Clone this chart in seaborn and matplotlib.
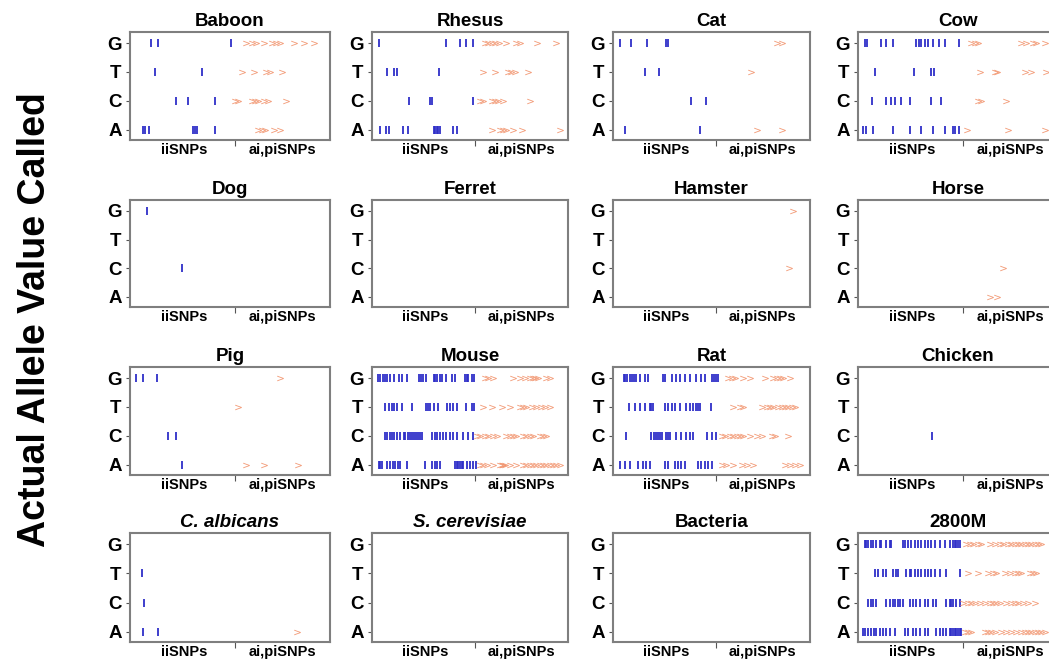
import numpy as np
import pandas as pd
import matplotlib
matplotlib.use("Agg")
import matplotlib.pyplot as plt
import seaborn as sns

# ---------------- data (positions along the SNP axis, 0-100) ----------------
ALLELES = ["A", "C", "T", "G"]          # bottom -> top
XLABELS = ["iiSNPs", "ai,piSNPs"]
SPECIES = ["Baboon", "Rhesus", "Cat", "Cow",
           "Dog", "Ferret", "Hamster", "Horse",
           "Pig", "Mouse", "Rat", "Chicken",
           "C. albicans", "S. cerevisiae", "Bacteria", "2800M"]

BABOON_II = dict(G=[10.3, 14.2, 50.5], T=[12.5, 36], C=[23, 29, 42.5],
                 A=[6.7, 7.5, 9.7, 31.7, 32.5, 33.3, 42.5])
BABOON_AI = dict(G=[58, 61, 63, 67, 71, 73, 75, 82, 87, 92], T=[56, 62, 68, 70, 76],
                 C=[52.5, 54, 61, 62.5, 64, 67, 69, 78], A=[64, 66, 67.5, 72, 75])

RHESUS_II = dict(G=[3.4, 37.8, 45, 48, 51.7], T=[7.6, 11.4, 12.7, 34.4],
                 C=[19, 29.7, 30.7, 51.7],
                 A=[3.9, 7.3, 8.5, 15.8, 18.3, 31.4, 32.2, 33, 33.9, 34.7, 41.5, 43.2])
RHESUS_AI = dict(G=[57.6, 59, 61, 62.7, 65, 68.6, 73.7, 75.4, 84, 94],
                 T=[56.8, 62.7, 69.5, 71, 73, 79.7],
                 C=[55, 56.8, 61, 62.7, 64.4, 67, 80.5],
                 A=[61, 65.3, 67, 68.6, 72, 76.3, 95.8])

CAT_II = dict(G=[3.7, 9.3, 17.5, 27.1, 28], T=[16.1, 23.2], C=[39.8, 47.1], A=[5.9, 44.4])
CAT_AI = dict(G=[83, 85.6], T=[70.3], C=[], A=[72.9, 85.6])

COW_II = dict(G=[3.7, 4.5, 11.7, 14.2, 17.5, 29.2, 30.3, 31.7, 33.3, 35, 37.5, 40.3, 43.7, 50.3],
              T=[8.3, 27.8, 36.7, 38],
              C=[7, 14.2, 16.7, 18.3, 21.7, 25.8, 36.7, 41.7],
              A=[2.5, 4.2, 7.5, 17.5, 25.8, 31.7, 37.5, 43.3, 47.5, 48.3, 50.3])
COW_AI = dict(G=[56.7, 58.3, 60, 81.7, 84.2, 87.5, 89.2, 93.3],
              T=[60.8, 68.3, 69.7, 83.3, 86.7, 94.2],
              C=[60, 61.7, 74.2], A=[54.7, 75, 93.3])

DOG_II = dict(G=[8.5], T=[], C=[26], A=[])
DOG_AI = dict(G=[], T=[], C=[], A=[])

FERRET_II = dict(G=[], T=[], C=[], A=[])
FERRET_AI = dict(G=[], T=[], C=[], A=[])

HAMSTER_II = dict(G=[], T=[], C=[], A=[])
HAMSTER_AI = dict(G=[91.4], T=[], C=[89.3], A=[])

HORSE_II = dict(G=[], T=[], C=[], A=[])
HORSE_AI = dict(G=[], T=[], C=[72.5], A=[66, 69.5])

PIG_II = dict(G=[3, 6.4, 13.4], T=[], C=[19, 22.9], A=[26])
PIG_AI = dict(G=[74.8], T=[53.8], C=[], A=[58, 67.2, 84])

MOUSE_II = dict(
    G=[2.9, 4.2, 5.6, 6.8, 7.6, 9.3, 11, 13.6, 15.3, 17.8, 24.1, 24.9, 25.9, 27.6, 31.4,
       32.2, 33.1, 34.7, 35.6, 37.8, 40.7, 42.4, 47.5, 48.3, 49.2, 50.8, 52],
    T=[6.8, 8.5, 10.2, 11.4, 12.7, 15.3, 20.3, 27.6, 28.8, 29.7, 31.4, 33.9, 38.1, 39.8,
       41.2, 43.2, 48, 50.8, 52],
    C=[6.8, 7.6, 9, 10.2, 11.4, 12.7, 14.4, 16.1, 16.9, 18.6, 19.5, 20.3, 21.2, 22.5, 23.7,
       24.6, 25.4, 30.5, 31.9, 33.1, 34.7, 36.4, 37.8, 39.8, 41.5, 43.2, 46.6, 49.2, 51.7],
    A=[3.4, 4.2, 5.1, 7.6, 9.3, 10.7, 11.9, 13.1, 14.4, 17.8, 27.1, 30.5, 31.9, 33.1, 34.7,
       42.4, 43.2, 44.1, 44.9, 45.8, 46.6, 48.3, 50, 51.7, 53])
MOUSE_AI = dict(
    G=[57.6, 59.3, 61.9, 72, 75.4, 78, 80.5, 82.2, 83, 84.7, 89, 90.7],
    T=[56.8, 61, 66.1, 70.3, 75.4, 77.1, 78.8, 81.4, 83.9, 86.4, 88.1, 90.7],
    C=[53.7, 55.1, 57.6, 59.3, 61.9, 63.6, 68.6, 70.3, 72, 73.7, 77.1, 78.8, 80.5, 82.2,
       85.6, 87.3, 89],
    A=[55.1, 56.8, 58.5, 61.9, 65.3, 66.1, 66.9, 67.8, 70.3, 73.7, 77.1, 78.8, 80.5, 82.2,
       83.9, 85.6, 87.3, 89, 90.7, 92.4, 94.1, 95.8])

RAT_II = dict(
    G=[5.4, 6.3, 7.1, 8.5, 9.7, 10.5, 11.5, 13.6, 16.1, 17.8, 25.4, 26.3, 29.7, 32.2, 34.2,
       36.4, 39, 42, 44.9, 46.6, 50.5, 51.4, 52.2, 53.1],
    T=[8.1, 11, 13.6, 16.1, 18.6, 19.5, 20.3, 26.3, 28, 29.7, 31.4, 33.9, 36.9, 39, 40.7,
       42, 43.2, 44.4, 49.5],
    C=[6.8, 19.5, 20.7, 21.7, 22.9, 23.7, 25.1, 27.1, 28, 28.8, 32.2, 34.7, 36.9, 39, 40.7,
       47.5, 50.5, 52.2],
    A=[3.4, 5.9, 8.5, 12.7, 15.3, 16.9, 18.6, 26.3, 28, 31.4, 33.1, 34.7, 36.4, 43.2, 44.9,
       46.6, 48.3, 50])
RAT_AI = dict(
    G=[58.5, 60.2, 61.9, 66.1, 69.5, 77.1, 81.4, 83.1, 84.7, 86.4, 89.8],
    T=[61, 64.4, 66.1, 75.4, 78, 79.7, 81.4, 83.9, 85.6, 87.3, 89, 90.7, 92.4],
    C=[55.1, 56.8, 59.3, 61, 62.7, 64.4, 66.1, 69.5, 72.9, 75.4, 80.5, 82.2, 89],
    A=[55.1, 57.6, 61, 65.3, 67.8, 71.2, 87.3, 89.8, 92.4, 94.9])

CHICKEN_II = dict(G=[], T=[], C=[37], A=[])
CHICKEN_AI = dict(G=[], T=[], C=[], A=[])

CALB_II = dict(G=[], T=[6.2], C=[7.2], A=[6.7, 14.2])
CALB_AI = dict(G=[], T=[], C=[], A=[83.3])

SCER_II = dict(G=[], T=[], C=[], A=[])
SCER_AI = dict(G=[], T=[], C=[], A=[])

BACT_II = dict(G=[], T=[], C=[], A=[])
BACT_AI = dict(G=[], T=[], C=[], A=[])

M2800_II = dict(
    G=[3.3, 4.2, 5, 6.3, 7.5, 9.2, 10.8, 11.7, 14.2, 15.8, 16.7, 22.5, 23.3, 25, 26.7, 28.3,
       30, 31.7, 33.3, 35, 36.7, 38.3, 40.8, 43.3, 45.8, 47.5, 48.3, 49.2, 50, 50.8],
    T=[8.3, 10, 12.5, 14.2, 17.5, 19.2, 20, 24.2, 25.8, 26.7, 28.3, 30, 31.7, 33.3, 35,
       36.7, 38.3, 40.8, 44.2, 50.8],
    C=[5, 6.3, 7.5, 9.2, 14.2, 15.8, 17.5, 18.3, 20, 20.8, 22.5, 25.8, 27.5, 29.2, 30.8,
       33.3, 35, 37.5, 39.2, 44.2, 45.8, 46.7, 47.5, 49.2, 50.8],
    A=[2.5, 3.7, 5, 6.7, 8, 9.2, 10.8, 12.5, 14.2, 15.8, 18.3, 23.3, 25, 27.5, 29.2, 30.8,
       33.3, 35, 39.2, 40.8, 42.5, 44.2, 45.8, 46.7, 47.5, 48.3, 49.2, 50, 50.8, 51.7])
M2800_AI = dict(
    G=[54.2, 55.8, 57.5, 60, 61.7, 65.8, 68.3, 70.8, 72.5, 75, 76.7, 78.3, 80, 81.7, 83.3,
       85, 86.7, 88.3, 90, 91.7],
    T=[55, 60, 65, 67.5, 69.2, 73.3, 75.8, 78.3, 80, 81.7, 85.8, 87.5, 89.2],
    C=[52.5, 55, 56.7, 58.3, 60.8, 63.3, 65.8, 67.5, 69.2, 70.8, 74.2, 76.7, 78.3, 80, 82.5,
       85, 88.3],
    A=[53.3, 55, 56.7, 63.3, 65, 66.7, 68.3, 71.7, 74.2, 76.7, 79.2, 81.7, 83.3, 85, 86.7,
       88.3, 90, 91.7, 93.3])

SOURCES = {
    "Baboon": (BABOON_II, BABOON_AI), "Rhesus": (RHESUS_II, RHESUS_AI),
    "Cat": (CAT_II, CAT_AI), "Cow": (COW_II, COW_AI),
    "Dog": (DOG_II, DOG_AI), "Ferret": (FERRET_II, FERRET_AI),
    "Hamster": (HAMSTER_II, HAMSTER_AI), "Horse": (HORSE_II, HORSE_AI),
    "Pig": (PIG_II, PIG_AI), "Mouse": (MOUSE_II, MOUSE_AI),
    "Rat": (RAT_II, RAT_AI), "Chicken": (CHICKEN_II, CHICKEN_AI),
    "C. albicans": (CALB_II, CALB_AI), "S. cerevisiae": (SCER_II, SCER_AI),
    "Bacteria": (BACT_II, BACT_AI), "2800M": (M2800_II, M2800_AI),
}

rows = []
for sp, (ii, ai) in SOURCES.items():
    for kind, d in (("ii", ii), ("ai", ai)):
        for allele, xs in d.items():
            for x in xs:
                rows.append(dict(species=sp, kind=kind, allele=allele,
                                 pos=x, ypos=ALLELES.index(allele)))
df = pd.DataFrame(rows)

# ---------------- styling ----------------
sns.set_theme(style="white")
plt.rcParams["font.family"] = ["Liberation Sans", "DejaVu Sans"]
plt.rcParams["text.color"] = "black"
plt.rcParams["xtick.labelcolor"] = "black"
plt.rcParams["ytick.labelcolor"] = "black"

BLUE = "#2f2fc8"
ORANGE = "#f08a60"
SPINE = "#7f7f7f"

W, H = 1049, 660
fig = plt.figure(figsize=(W / 100, H / 100), dpi=100)

col_left = [130, 372, 613, 858]
col_w = [200, 196, 197, 200]
row_top = [32, 200, 367, 533]
row_h = [108, 107, 108, 109]

for i, sp in enumerate(SPECIES):
    r, c = divmod(i, 4)
    ax = fig.add_axes([col_left[c] / W, 1 - (row_top[r] + row_h[r]) / H,
                       col_w[c] / W, row_h[r] / H])
    sub = df[df.species == sp]
    ii = sub[sub.kind == "ii"]
    ai = sub[sub.kind == "ai"]
    if len(ii):
        sns.scatterplot(data=ii, x="pos", y="ypos", marker="|", s=40,
                        linewidth=1.3, color=BLUE, ax=ax, legend=False)
    if len(ai):
        sns.scatterplot(data=ai, x="pos", y="ypos", marker=r"$>$", s=22,
                        linewidth=0, color=ORANGE, alpha=0.85, ax=ax, legend=False)
    ax.set_xlim(0, 100)
    ax.set_ylim(-0.35, 3.38)
    ax.set_yticks(range(4))
    ax.set_yticklabels(ALLELES, fontsize=13.5, fontweight="bold")
    ax.set_xticks([27, 76])
    ax.set_xticklabels(XLABELS, fontsize=10.5, fontweight="bold")
    ax.set_xticks([52.5], minor=True)
    ax.tick_params(axis="x", which="major", length=0, pad=2)
    ax.tick_params(axis="x", which="minor", length=4, width=0.8, color="#555555",
                   bottom=True, direction="out")
    ax.tick_params(axis="y", length=3, width=0.8, color="#555555", left=True,
                   direction="out", pad=3)
    ax.set_xlabel("")
    ax.set_ylabel("")
    for s in ax.spines.values():
        s.set_color(SPINE)
        s.set_linewidth(1.5)
        s.set_visible(True)
    style = "italic" if sp in ("C. albicans", "S. cerevisiae") else "normal"
    ax.set_title(sp, fontsize=13.5, fontweight="bold", fontstyle=style, pad=4,
                 color="black")

fig.text(35 / W, 1 - 320 / H, "Actual Allele Value Called", rotation=90,
         ha="center", va="center", fontsize=27, fontweight="bold", color="black")

fig.savefig("out.png", dpi=100)
